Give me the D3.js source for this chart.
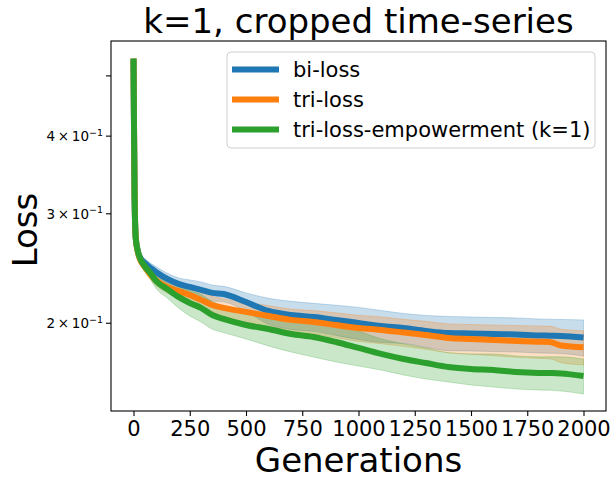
<!DOCTYPE html>
<html>
<head>
<meta charset="utf-8">
<script src="https://cdn.jsdelivr.net/npm/d3@7"></script>
<style>
  body { margin: 0; background: #fff; }
  svg { display: block; font-family: "DejaVu Sans", sans-serif; }
</style>
</head>
<body>
<svg id="chart" width="610" height="480"></svg>
<script>
// ---- data ----
const gens = [0, 2, 5, 10, 20, 30, 50, 75, 100, 150, 200, 250, 300, 350, 400, 500, 600, 700, 800, 900, 1000, 1100, 1200, 1300, 1400, 1500, 1600, 1700, 1800, 1850, 1900, 2000];

const biLossMean = [0.533, 0.425, 0.316, 0.2744, 0.2605, 0.2548, 0.2501, 0.2455, 0.2419, 0.2357, 0.2314, 0.2288, 0.2263, 0.2238, 0.2229, 0.2164, 0.2093, 0.2062, 0.2047, 0.2025, 0.2002, 0.1980, 0.1965, 0.1944, 0.1929, 0.1926, 0.1922, 0.1919, 0.1912, 0.1910, 0.1908, 0.1898];
const biLossStd = [0, 0.002, 0.002, 0.002, 0.003, 0.0035, 0.004, 0.0045, 0.0048, 0.005, 0.0052, 0.006, 0.0068, 0.0066, 0.0064, 0.0074, 0.0101, 0.0107, 0.0106, 0.0113, 0.0119, 0.0117, 0.0109, 0.0115, 0.0122, 0.0121, 0.0121, 0.0121, 0.0120, 0.0120, 0.0120, 0.0127];

const triLossMean = [0.533, 0.43, 0.32, 0.2744, 0.2595, 0.2529, 0.2464, 0.2395, 0.2345, 0.2288, 0.2254, 0.2221, 0.2181, 0.2140, 0.2117, 0.2086, 0.2055, 0.2025, 0.2010, 0.1987, 0.1965, 0.1951, 0.1933, 0.1915, 0.1894, 0.1887, 0.1880, 0.1873, 0.1868, 0.1866, 0.1842, 0.1830];
const triLossStd = [0, 0.002, 0.002, 0.002, 0.002, 0.003, 0.0037, 0.0044, 0.0045, 0.005, 0.0055, 0.0062, 0.0068, 0.007, 0.0074, 0.0078, 0.008, 0.0083, 0.0086, 0.0092, 0.0095, 0.0097, 0.0097, 0.0099, 0.0101, 0.0104, 0.0107, 0.011, 0.0112, 0.0113, 0.0114, 0.0116];

const empMean = [0.533, 0.425, 0.316, 0.274, 0.2605, 0.254, 0.247, 0.241, 0.234, 0.227, 0.2205, 0.2156, 0.2117, 0.2062, 0.2032, 0.1987, 0.1958, 0.1922, 0.1901, 0.1866, 0.1825, 0.1785, 0.1752, 0.1726, 0.1701, 0.1688, 0.1682, 0.1670, 0.1664, 0.1663, 0.1661, 0.1645];
const empStd = [0, 0.002, 0.002, 0.002, 0.004, 0.005, 0.005, 0.0055, 0.0064, 0.0073, 0.0088, 0.0101, 0.0107, 0.0105, 0.0100, 0.0100, 0.0119, 0.0124, 0.0136, 0.0133, 0.0118, 0.0103, 0.0101, 0.0099, 0.0092, 0.0097, 0.0103, 0.0102, 0.0102, 0.0103, 0.0105, 0.0106];

const seriesNames = ["bi-loss", "tri-loss", "tri-loss-empowerment (k=1)"];
const seriesColors = ["#1f77b4", "#ff7f0e", "#2ca02c"];
const xTicks = [0, 250, 500, 750, 1000, 1250, 1500, 1750, 2000];
const yTicks = [0.2, 0.3, 0.4, 0.5];
const yTickLabels = [["2", "\u22121"], ["3", "\u22121"], ["4", "\u22121"], null];
const titleText = "k=1, cropped time-series";
const xLabel = "Generations";
const yLabel = "Loss";

// ---- layout ----
const L = 111, R = 606, T = 41, B = 411;
const svg = d3.select("#chart");
const x = d3.scaleLinear().domain([-100, 2100]).range([L, R]);
const y = d3.scaleLog().domain([0.1445, 0.569]).range([B, T]);

const series = [
  { mean: biLossMean, std: biLossStd },
  { mean: triLossMean, std: triLossStd },
  { mean: empMean, std: empStd }
].map((s, i) => ({
  name: seriesNames[i], color: seriesColors[i],
  pts: gens.map((g, j) => ({ g, m: s.mean[j], lo: s.mean[j] - s.std[j], hi: s.mean[j] + s.std[j] }))
}));

const area = d3.area().x(d => x(d.g)).y0(d => y(d.lo)).y1(d => y(d.hi)).curve(d3.curveMonotoneX);
const line = d3.line().x(d => x(d.g)).y(d => y(d.m)).curve(d3.curveMonotoneX);

// bands
series.forEach(s => {
  svg.append("path").datum(s.pts).attr("d", area)
    .attr("fill", s.color).attr("fill-opacity", 0.25)
    .attr("stroke", s.color).attr("stroke-opacity", 0.25).attr("stroke-width", 1);
});
// lines
series.forEach(s => {
  svg.append("path").datum(s.pts).attr("d", line)
    .attr("fill", "none").attr("stroke", s.color).attr("stroke-width", 6)
    .attr("stroke-linecap", "butt").attr("stroke-linejoin", "round");
});

// frame
svg.append("rect").attr("x", L).attr("y", T).attr("width", R - L).attr("height", B - T)
  .attr("fill", "none").attr("stroke", "#000").attr("stroke-width", 1.1);

// x axis
const xAxis = d3.axisBottom(x).tickValues(xTicks).tickSize(5).tickPadding(5).tickFormat(d3.format("d"));
const gx = svg.append("g").attr("transform", `translate(0,${B})`).call(xAxis);
gx.select(".domain").remove();
gx.selectAll("line").attr("stroke", "#000").attr("stroke-width", 1.1);
gx.selectAll("text").style("font-size", "21px").style("font-family", "DejaVu Sans").attr("fill", "#000");

// y axis (log, minor labels)
const gy = svg.append("g");
yTicks.forEach((v, i) => {
  const yy = y(v);
  gy.append("line").attr("x1", L - 5).attr("x2", L).attr("y1", yy).attr("y2", yy)
    .attr("stroke", "#000").attr("stroke-width", 1.1);
  const lab = yTickLabels[i];
  if (lab) {
    const t = gy.append("text").attr("x", L - 8).attr("y", yy + 5)
      .attr("text-anchor", "end").style("font-size", "13.5px").attr("fill", "#000");
    t.append("tspan").style("font-size", "13.5px").text(lab[0] + "\u2009\u00d7\u200910");
    t.append("tspan").style("font-size", "9.5px").attr("dy", "-5.5").text(lab[1]);
  }
});

// title and labels
svg.append("text").attr("x", (L + R) / 2).attr("y", 33).attr("text-anchor", "middle")
  .style("font-size", "34px").attr("fill", "#000").text(titleText);
svg.append("text").attr("x", (L + R) / 2).attr("y", 472).attr("text-anchor", "middle")
  .style("font-size", "34px").attr("fill", "#000").text(xLabel);
svg.append("text").attr("transform", `translate(37,${(T + B) / 2 + 4}) rotate(-90)`)
  .attr("text-anchor", "middle").style("font-size", "34px").attr("fill", "#000").text(yLabel);

// legend
const lg = svg.append("g");
lg.append("rect").attr("x", 227).attr("y", 52).attr("width", 368).attr("height", 96).attr("rx", 4)
  .attr("fill", "#fff").attr("fill-opacity", 0.8).attr("stroke", "#d0d0d0").attr("stroke-width", 1);
series.forEach((s, i) => {
  const cy = 69.5 + i * 30;
  lg.append("line").attr("x1", 232).attr("x2", 279).attr("y1", cy).attr("y2", cy)
    .attr("stroke", s.color).attr("stroke-width", 6);
  lg.append("text").attr("x", 293).attr("y", cy).attr("dy", "0.36em")
    .style("font-size", "21px").attr("fill", "#000").text(s.name);
});
</script>
</body>
</html>
